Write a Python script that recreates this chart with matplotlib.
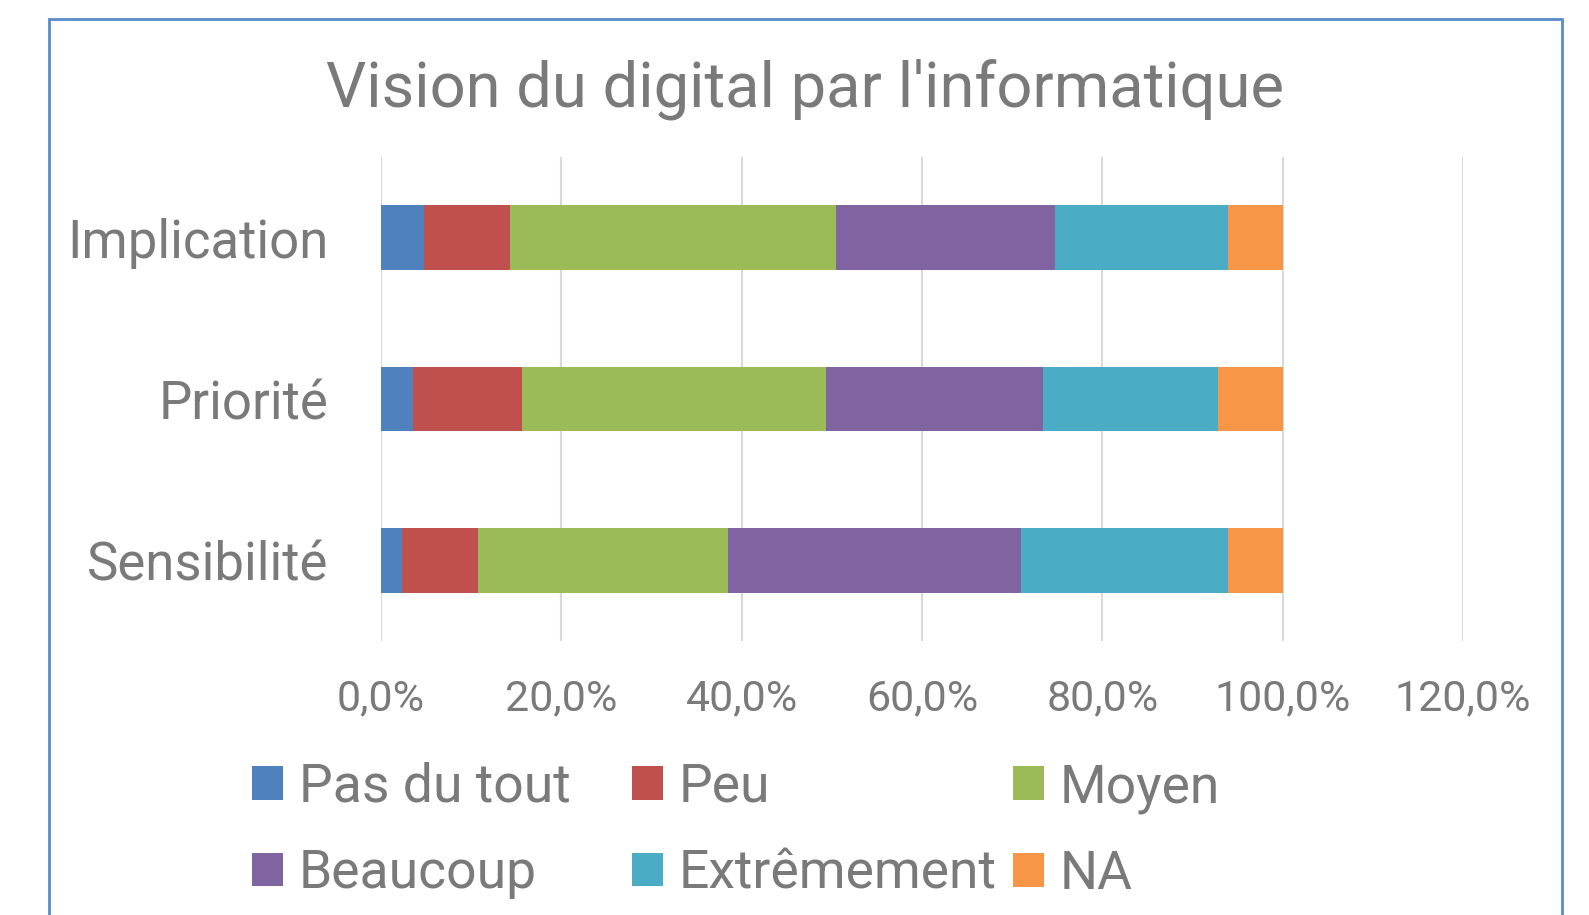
import matplotlib.pyplot as plt
import matplotlib.patches as mpatches
from matplotlib.ticker import FuncFormatter
import numpy as np

plt.rcParams['font.family'] = ['Roboto', 'DejaVu Sans']

categories = ['Implication', 'Priorité', 'Sensibilité']
series = ['Pas du tout', 'Peu', 'Moyen', 'Beaucoup', 'Extrêmement', 'NA']
colors = ['#4F81BD', '#C0504D', '#9BBB59', '#8064A2', '#4BACC6', '#F79646']

# percentages per category (Implication, Priorité, Sensibilité)
pas_du_tout = [4.8, 3.6, 2.3]
peu = [9.5, 12.0, 8.5]
moyen = [36.2, 33.7, 27.7]
beaucoup = [24.2, 24.1, 32.5]
extremement = [19.2, 19.4, 22.9]
na = [6.1, 7.2, 6.1]
values = [pas_du_tout, peu, moyen, beaucoup, extremement, na]

grey = '#7A7A7A'

fig = plt.figure(figsize=(15.89, 9.15), dpi=100)
W, H = 1589, 915
ax = fig.add_axes([381 / W, 1 - 641 / H, (1463 - 381) / W, (641 - 157) / H])

y = np.arange(len(categories))
left = np.zeros(len(categories))
handles = []
for name, vals, c in zip(series, values, colors):
    v = np.array(vals) / 100
    b = ax.barh(y, v, left=left, height=0.4, color=c, label=name, zorder=3)
    handles.append(b)
    left += v

ax.set_xlim(0, 1.2)
ax.set_ylim(2.5, -0.5)
ax.set_xticks(np.arange(0, 1.21, 0.2))
ax.xaxis.set_major_formatter(FuncFormatter(lambda x, p: f'{x * 100:.1f}%'.replace('.', ',')))
ax.set_yticks(y)
ax.set_yticklabels(categories)
ax.grid(axis='x', color='#D9D9D9', linewidth=1.5, zorder=0)
for s in ax.spines.values():
    s.set_visible(False)
ax.tick_params(axis='x', length=0, pad=27, labelsize=31, labelcolor=grey)
ax.tick_params(axis='y', length=0, pad=38, labelsize=38, labelcolor=grey)

fig.text(0.5 * (49 + 1562) / W, 1 - 89 / H, "Vision du digital par l'informatique",
         ha='center', va='center', fontsize=45.5, color=grey)

# legend, three columns placed separately
col_x = [252, 632, 1013]
for i in range(3):
    leg = fig.legend([handles[i], handles[i + 3]], [series[i], series[i + 3]],
                     loc='upper left', bbox_to_anchor=(col_x[i] / W, 1 - 762 / H),
                     frameon=False, fontsize=38.5, handlelength=0.58, handleheight=0.58,
                     handletextpad=0.3, labelspacing=0.66, borderpad=0, borderaxespad=0)
    for t in leg.get_texts():
        t.set_color(grey)

border = mpatches.Rectangle((49 / W, -0.1), (1562 - 49) / W, 1.1 - 19 / H,
                            transform=fig.transFigure, fill=False,
                            edgecolor='#5B8BC9', linewidth=2, clip_on=False)
fig.add_artist(border)

fig.savefig('out.png', dpi=100)
